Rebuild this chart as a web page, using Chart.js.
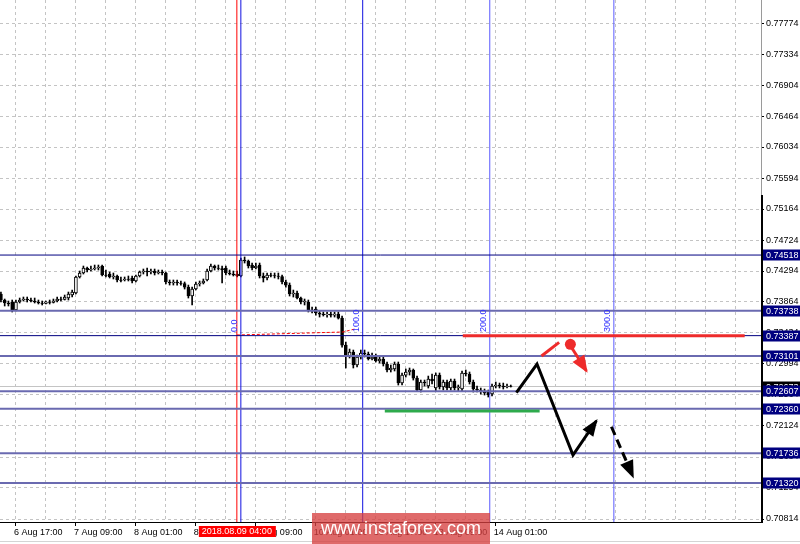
<!DOCTYPE html>
<html lang="en">
<head>
<meta charset="UTF-8">
<title>AUDUSD H1</title>
<script src="https://cdn.jsdelivr.net/npm/chart.js"></script>
<style>
  html, body { margin: 0; padding: 0; background: #fff; }
</style>
</head>
<body>
<canvas id="myChart" width="800" height="544"></canvas>
<script>
// H1 bars, index 0 = 6 Aug 17:00
const firstBar = -4;
const opens = [
  .73971,.73887,.73845,.73859,.73747,.73859,.73887,.73901,.73887,.73873,
  .73859,.73845,.73840,.73859,.73852,.73873,.73901,.73894,.73915,.73957,
  .73985,.74210,.74266,.74336,.74308,.74322,.74336,.74364,.74238,.74252,
  .74210,.74224,.74168,.74168,.74182,.74196,.74154,.74224,.74280,.74294,
  .74280,.74294,.74266,.74280,.74266,.74140,.74126,.74140,.74126,.74119,
  .74069,.73943,.74041,.74112,.74126,.74168,.74294,.74364,.74336,.74329,
  .74336,.74266,.74252,.74252,.74224,.74448,.74434,.74378,.74336,.74378,
  .74224,.74196,.74238,.74231,.74224,.74217,.74140,.74097,.73971,.73985,
  .73915,.73859,.73859,.73747,.73761,.73705,.73690,.73683,.73690,.73676,
  .73690,.73634,.73255,.73101,.73157,.72975,.73087,.73143,.73129,.73059,
  .73101,.73031,.73059,.72989,.72905,.72919,.72989,.72722,.72834,.72877,
  .72905,.72792,.72624,.72736,.72680,.72778,.72652,.72834,.72666,.72736,
  .72652,.72750,.72652,.72638,.72863,.72849,.72736,.72638,.72624,.72610,
  .72596,.72568,.72680,.72694,.72680,.72666,.72680
];
const highs = [
  .73999,.73901,.73873,.73887,.73887,.73915,.73929,.73929,.73915,.73915,
  .73887,.73873,.73873,.73887,.73901,.73929,.73929,.73957,.73999,.74027,
  .74224,.74294,.74364,.74350,.74364,.74378,.74378,.74378,.74308,.74280,
  .74266,.74238,.74210,.74210,.74224,.74224,.74238,.74294,.74322,.74336,
  .74322,.74322,.74308,.74308,.74280,.74168,.74168,.74168,.74154,.74140,
  .74097,.74069,.74140,.74154,.74182,.74322,.74392,.74378,.74378,.74364,
  .74364,.74308,.74294,.74294,.74476,.74491,.74448,.74406,.74406,.74406,
  .74266,.74266,.74266,.74266,.74266,.74238,.74168,.74126,.74027,.74013,
  .73929,.73901,.73887,.73789,.73789,.73733,.73719,.73719,.73719,.73719,
  .73719,.73662,.73297,.73199,.73185,.73115,.73185,.73185,.73157,.73143,
  .73129,.73101,.73087,.73017,.72975,.73017,.73017,.72863,.72919,.72933,
  .72919,.72820,.72764,.72764,.72820,.72849,.72863,.72863,.72764,.72764,
  .72778,.72778,.72694,.72891,.72905,.72877,.72764,.72680,.72652,.72638,
  .72624,.72708,.72736,.72722,.72722,.72708,.72694
];
const lows = [
  .73859,.73803,.73803,.73719,.73733,.73845,.73873,.73859,.73859,.73845,
  .73831,.73817,.73831,.73831,.73845,.73859,.73873,.73887,.73887,.73929,
  .73971,.74196,.74252,.74280,.74294,.74308,.74308,.74224,.74210,.74196,
  .74182,.74140,.74140,.74154,.74154,.74126,.74140,.74210,.74252,.74224,
  .74252,.74238,.74252,.74238,.74112,.74097,.74097,.74097,.74097,.74041,
  .73915,.73817,.74027,.74083,.74112,.74154,.74280,.74308,.74308,.74126,
  .74238,.74238,.74224,.74210,.74210,.74406,.74336,.74308,.74322,.74196,
  .74140,.74168,.74210,.74196,.74182,.74112,.74069,.73943,.73929,.73901,
  .73831,.73817,.73719,.73705,.73676,.73648,.73662,.73648,.73648,.73648,
  .73620,.73227,.72933,.73073,.72933,.72947,.73059,.73087,.73045,.73045,
  .73017,.73003,.72961,.72877,.72877,.72891,.72694,.72694,.72806,.72834,
  .72764,.72610,.72596,.72680,.72652,.72708,.72610,.72638,.72624,.72624,
  .72624,.72624,.72610,.72610,.72820,.72708,.72596,.72596,.72568,.72554,
  .72526,.72540,.72652,.72652,.72638,.72652,.72666
];
const closes = [
  .73887,.73845,.73831,.73747,.73859,.73887,.73901,.73887,.73873,.73859,
  .73845,.73840,.73859,.73852,.73873,.73901,.73894,.73929,.73971,.73999,
  .74210,.74266,.74336,.74308,.74322,.74336,.74350,.74238,.74231,.74210,
  .74224,.74168,.74161,.74182,.74175,.74154,.74224,.74280,.74294,.74280,
  .74294,.74266,.74280,.74266,.74140,.74126,.74140,.74126,.74119,.74069,
  .73943,.74041,.74112,.74126,.74154,.74294,.74364,.74336,.74329,.74308,
  .74266,.74252,.74238,.74224,.74448,.74434,.74364,.74336,.74364,.74224,
  .74196,.74238,.74231,.74224,.74217,.74140,.74097,.73971,.73985,.73915,
  .73859,.73873,.73747,.73733,.73705,.73690,.73683,.73690,.73676,.73690,
  .73634,.73255,.73101,.73157,.72975,.73087,.73143,.73129,.73059,.73087,
  .73031,.73059,.72989,.72905,.72933,.72989,.72722,.72834,.72877,.72905,
  .72792,.72624,.72736,.72722,.72778,.72750,.72834,.72666,.72736,.72652,
  .72750,.72652,.72666,.72863,.72849,.72736,.72638,.72624,.72610,.72582,
  .72554,.72680,.72694,.72680,.72666,.72680,.72673
];

const timeLabels = ['6 Aug 17:00', '7 Aug 09:00', '8 Aug 01:00', '8 Aug 17:00',
  '9 Aug 09:00', '10 Aug 01:00', '10 Aug 17:00', '13 Aug 09:00', '14 Aug 01:00'];
const labelEvery = 16;
const priceTicks = [0.77774, 0.77334, 0.76904, 0.76464, 0.76034, 0.75594, 0.75164, 0.74724,
  0.74294, 0.73864, 0.73434, 0.72994, 0.72564, 0.72124, 0.71684, 0.71254, 0.70814];

const thinLevels = [0.74518, 0.73387];
const zoneLevels = [0.73738, 0.73101, 0.72607, 0.72360, 0.71736, 0.71320];
const bidPrice = 0.72673;

const markerBar = 58.93;          // vertical line 2018.08.09 04:00
const markerText = '2018.08.09 04:00';
const fibBars = [60, 92.5, 126.4, 159.5];
const fibNames = ['0.0', '100.0', '200.0', '300.0'];
const fibLabelPrice = 0.73438;
const fibBase = [[58.93, 0.73396], [87.2, 0.73438], [90.4, 0.73480]];

const resistance = [[119.2, 0.73387], [194.4, 0.73387]];
const support = [[98.4, 0.72329], [139.7, 0.72329]];
const mainPath = [[133.5, 0.72586], [139.0, 0.72989], [148.6, 0.71712], [154.85, 0.72193]];
const nextLeg = [[158.85, 0.72109], [164.6, 0.71407]];
const altUp = [[140.2, 0.73101], [144.9, 0.73293]];
const altDot = [147.9, 0.73265];
const altDown = [[148.3, 0.73213], [152.2, 0.72891]];

const xMin = -4.25, xMax = 198.75;
const yMin = 0.70772, yMax = 0.78097;

const barIndex = opens.map((_, k) => firstBar + k);

function pts(list) { return list.map(p => ({ x: p[0], y: p[1] })); }
function line(data, color, width, extra) {
    return Object.assign({
        type: 'line', data: data, borderColor: color, backgroundColor: color,
        borderWidth: width, pointRadius: 0, tension: 0, fill: false, order: 0
    }, extra || {});
}
function hline(v, color, width, extra) {
    return line([{ x: xMin, y: v }, { x: xMax, y: v }], color, width, extra);
}
function vline(x, color, width) {
    return line([{ x: x, y: yMin }, { x: x, y: yMax }], color, width);
}

const datasets = [];
datasets.push({
    type: 'bar', data: barIndex.map((x, k) => ({ x: x, y: [lows[k], highs[k]] })),
    backgroundColor: '#000', barThickness: 1, grouped: false, order: 3
});
datasets.push({
    type: 'bar',
    data: barIndex.map((x, k) => ({ x: x, y: [Math.min(opens[k], closes[k]), Math.max(opens[k], closes[k])] })),
    backgroundColor: c => closes[c.dataIndex] >= opens[c.dataIndex] ? '#fff' : '#000',
    borderColor: '#000', borderWidth: 1, borderSkipped: false,
    barThickness: 3, grouped: false, order: 2
});
datasets.push(hline(bidPrice, '#c4c4c4', 1, { order: 4 }));
zoneLevels.forEach(v => datasets.push(hline(v, '#6a6ab0', 2)));
thinLevels.forEach(v => datasets.push(hline(v, '#000080', 1)));
datasets.push(vline(markerBar, '#ff0000', 1));
fibBars.forEach((b, i) => datasets.push(vline(b, i < 2 ? '#1010e0' : '#5a5aff', 1)));
datasets.push(line(pts(fibBase), '#ff0000', 1, { borderDash: [3, 2] }));
datasets.push(line(pts(resistance), '#ee2b2b', 3, { order: -1 }));
datasets.push(line(pts(support), '#2eaa4c', 3, { order: -1 }));
datasets.push(line(pts(mainPath), '#000', 3, { order: -1, arrow: { len: 15, half: 6.5 } }));
datasets.push(line(pts(nextLeg), '#000', 3, { order: -1, borderDash: [9, 5], arrow: { len: 16, half: 7 } }));
datasets.push(line(pts(altUp), '#ee2b2b', 3, { order: -1 }));
datasets.push(line(pts(altDown), '#ee2b2b', 3, { order: -1, arrow: { len: 15, half: 7 } }));
datasets.push(line([{ x: altDot[0], y: altDot[1] }], '#ee2b2b', 0, { order: -1, pointRadius: 5.5, pointBorderWidth: 0 }));

const arrowHeads = {
    id: 'arrowHeads',
    afterDatasetsDraw(chart) {
        const ctx = chart.ctx;
        chart.data.datasets.forEach((ds, i) => {
            if (!ds.arrow) return;
            const el = chart.getDatasetMeta(i).data;
            const a = el[el.length - 2], b = el[el.length - 1];
            const ang = Math.atan2(b.y - a.y, b.x - a.x);
            const L = ds.arrow.len, H = ds.arrow.half;
            const bx = b.x - L * Math.cos(ang), by = b.y - L * Math.sin(ang);
            ctx.save();
            ctx.fillStyle = ds.borderColor;
            ctx.beginPath();
            ctx.moveTo(b.x + 2 * Math.cos(ang), b.y + 2 * Math.sin(ang));
            ctx.lineTo(bx + H * Math.sin(ang), by - H * Math.cos(ang));
            ctx.lineTo(bx - H * Math.sin(ang), by + H * Math.cos(ang));
            ctx.closePath();
            ctx.fill();
            ctx.restore();
        });
    }
};

const overlay = {
    id: 'overlay',
    afterDraw(chart) {
        const ctx = chart.ctx, xs = chart.scales.x, ys = chart.scales.y, area = chart.chartArea;
        ctx.save();
        // frame
        ctx.strokeStyle = '#000';
        ctx.lineWidth = 1;
        ctx.beginPath();
        ctx.moveTo(0, area.bottom + 0.5);
        ctx.lineTo(area.right + 1, area.bottom + 0.5);
        ctx.stroke();
        ctx.strokeStyle = '#9a9a9a';
        ctx.beginPath();
        ctx.moveTo(area.right + 0.5, 0);
        ctx.lineTo(area.right + 0.5, 195);
        ctx.stroke();
        ctx.strokeStyle = '#000';
        ctx.lineWidth = 2;
        ctx.beginPath();
        ctx.moveTo(area.right + 1, 195);
        ctx.lineTo(area.right + 1, area.bottom + 1);
        ctx.stroke();
        ctx.strokeStyle = '#d4d4d4';
        ctx.lineWidth = 1;
        ctx.beginPath();
        ctx.moveTo(0, 541.5);
        ctx.lineTo(800, 541.5);
        ctx.stroke();

        // fib time zone labels
        ctx.font = '9px "Liberation Sans"';
        ctx.fillStyle = '#3030ff';
        fibBars.forEach((b, i) => {
            const px = xs.getPixelForValue(b), py = ys.getPixelForValue(fibLabelPrice);
            ctx.save();
            ctx.translate(px - 2, py);
            ctx.rotate(-Math.PI / 2);
            ctx.textAlign = 'left';
            ctx.textBaseline = 'bottom';
            ctx.fillText(fibNames[i], 0, 0);
            ctx.restore();
        });

        // price boxes on the axis
        function box(v, bg) {
            const y = ys.getPixelForValue(v);
            ctx.fillStyle = bg;
            ctx.fillRect(area.right + 2, Math.round(y) - 5.5, 38, 11);
            ctx.fillStyle = '#fff';
            ctx.textAlign = 'left';
            ctx.textBaseline = 'middle';
            ctx.fillText(v.toFixed(5), area.right + 5, Math.round(y) + 0.5);
        }
        box(bidPrice, '#000');
        thinLevels.concat(zoneLevels).forEach(v => box(v, '#000080'));

        // time label of the vertical line
        const mx = xs.getPixelForValue(markerBar);
        ctx.fillStyle = '#ff0000';
        ctx.fillRect(mx - 38, area.bottom + 4, 77, 11);
        ctx.fillStyle = '#fff';
        ctx.textAlign = 'center';
        ctx.fillText(markerText, mx, area.bottom + 10);

        // watermark
        ctx.fillStyle = 'rgba(214, 64, 64, 0.78)';
        ctx.fillRect(312, 513, 178, 31);
        ctx.fillStyle = '#fff';
        ctx.font = '18px "Liberation Sans"';
        ctx.textAlign = 'center';
        ctx.textBaseline = 'middle';
        ctx.fillText('www.instaforex.com', 401, 529);
        ctx.restore();
    }
};

Chart.defaults.font.family = '"Liberation Sans", Arial, sans-serif';
Chart.defaults.font.size = 9;
Chart.defaults.color = '#000';

new Chart(document.getElementById('myChart'), {
    type: 'bar',
    data: { datasets: datasets },
    options: {
        responsive: false,
        animation: false,
        layout: { padding: 0, autoPadding: false },
        plugins: { legend: { display: false }, tooltip: { enabled: false } },
        scales: {
            x: {
                type: 'linear', min: xMin, max: xMax, offset: false,
                afterBuildTicks: s => {
                    const t = [];
                    for (let v = 0; v <= xMax; v += 8) t.push({ value: v });
                    s.ticks = t;
                },
                afterFit: s => { s.height = 22; s.paddingLeft = 0; s.paddingRight = 0; },
                grid: {
                    offset: false, color: '#c4c4c4', tickLength: 4,
                    tickColor: c => (c.tick && c.tick.value % labelEvery === 0 && c.tick.value / labelEvery < timeLabels.length) ? '#000' : 'rgba(0,0,0,0)',
                    tickBorderDash: []
                },
                border: { display: false, dash: [3, 3] },
                ticks: {
                    autoSkip: false, maxRotation: 0, align: 'start', labelOffset: -2, padding: 1,
                    callback: v => (v % labelEvery === 0 && v / labelEvery < timeLabels.length) ? timeLabels[v / labelEvery] : ''
                }
            },
            y: {
                type: 'linear', position: 'right', min: yMin, max: yMax, beginAtZero: false,
                afterBuildTicks: s => { s.ticks = priceTicks.map(v => ({ value: v })); },
                afterFit: s => { s.width = 39; s.paddingTop = 0; s.paddingBottom = 0; },
                grid: { color: '#c4c4c4', tickLength: 3, tickColor: '#000', tickBorderDash: [] },
                border: { display: false, dash: [3, 3] },
                ticks: { autoSkip: false, padding: 2, callback: v => v.toFixed(5) }
            }
        }
    },
    plugins: [arrowHeads, overlay]
});
</script>
</body>
</html>
